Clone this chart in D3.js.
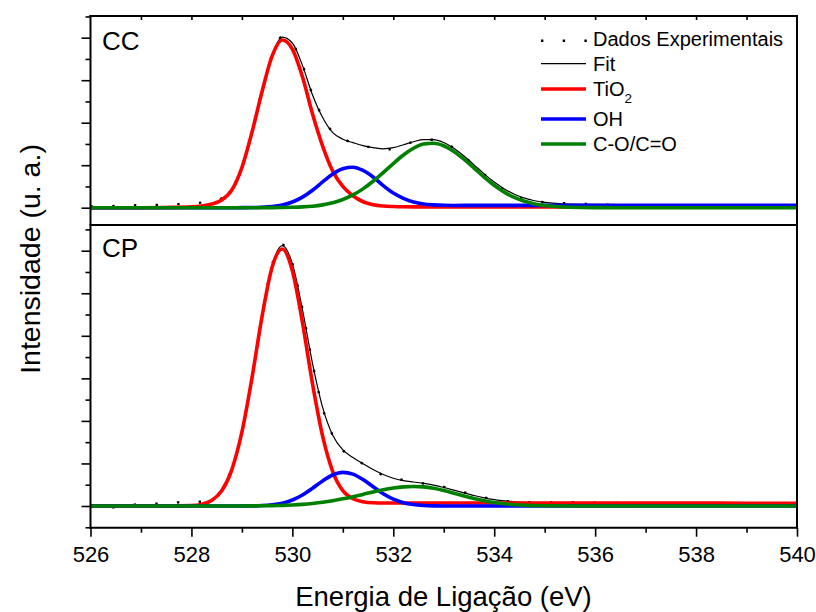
<!DOCTYPE html>
<html>
<head>
<meta charset="utf-8">
<script src="https://cdn.jsdelivr.net/npm/d3@7"></script>
<style>
  body { margin: 0; background: #fff; }
  svg { display: block; }
  text { font-family: Arial, "Liberation Sans", sans-serif; fill: #000; }
</style>
</head>
<body>
<svg id="chart" width="816" height="612"></svg>
<script>
// Binding energy grid (eV)
const energy = [
  526, 526.5, 527, 527.5,
  528, 528.2, 528.4, 528.6, 528.8,
  529, 529.2, 529.4, 529.6, 529.8,
  530, 530.2, 530.4, 530.6, 530.8,
  531, 531.2, 531.4, 531.6, 531.8,
  532, 532.2, 532.4, 532.6, 532.8,
  533, 533.2, 533.4, 533.6, 533.8,
  534, 534.2, 534.4, 534.6, 534.8,
  535, 535.5, 536, 537, 538, 539, 540
];

// ---- CC sample ----
const ccData = [
  0.03, 0.04, 0.06, 0.07,
  0.10, 0.12, 0.14, 0.22, 0.44,
  0.96, 1.80, 2.76, 3.61, 4.02,
  3.87, 3.36, 2.66, 2.13, 1.78,
  1.62, 1.53, 1.46, 1.41, 1.36,
  1.39, 1.47, 1.55, 1.60, 1.60,
  1.54, 1.40, 1.21, 1.00, 0.79,
  0.59, 0.42, 0.28, 0.20, 0.15,
  0.13, 0.10, 0.08, 0.05, 0.03, 0.01, 0.00
];
const ccFit = [
  0, 0, 0, 0.005,
  0.02, 0.04, 0.085, 0.18, 0.415,
  0.945, 1.777, 2.744, 3.600, 4.013,
  3.875, 3.349, 2.652, 2.123, 1.768,
  1.611, 1.531, 1.459, 1.415, 1.386,
  1.412, 1.481, 1.552, 1.604, 1.604,
  1.533, 1.398, 1.217, 1.008, 0.796,
  0.603, 0.442, 0.316, 0.225, 0.164,
  0.125, 0.084, 0.076, 0.075, 0.075, 0.075, 0.075
];
const ccTiO2 = [
  0, 0, 0, 0.005,
  0.02, 0.04, 0.085, 0.18, 0.415,
  0.944, 1.774, 2.733, 3.571, 3.946,
  3.733, 3.081, 2.204, 1.45, 0.86,
  0.50, 0.28, 0.14, 0.07, 0.04,
  0.028, 0.022, 0.02, 0.02, 0.02,
  0.02, 0.02, 0.02, 0.02, 0.02,
  0.02, 0.02, 0.02, 0.02, 0.02,
  0.02, 0.02, 0.02, 0.02, 0.02, 0.02, 0.02
];
const ccOH = [
  0, 0, 0, 0,
  0, 0, 0, 0, 0,
  0.001, 0.003, 0.010, 0.027, 0.063,
  0.133, 0.249, 0.412, 0.606, 0.792,
  0.919, 0.951, 0.876, 0.723, 0.52,
  0.345, 0.220, 0.133, 0.087, 0.067,
  0.056, 0.053, 0.055, 0.055, 0.055,
  0.055, 0.055, 0.055, 0.055, 0.055,
  0.055, 0.055, 0.055, 0.055, 0.055, 0.055, 0.055
];
const ccCO = [
  0, 0, 0, 0,
  0, 0, 0, 0, 0,
  0, 0, 0.001, 0.002, 0.004,
  0.009, 0.019, 0.036, 0.067, 0.116,
  0.192, 0.300, 0.443, 0.622, 0.826,
  1.039, 1.239, 1.399, 1.497, 1.517,
  1.457, 1.325, 1.142, 0.933, 0.721,
  0.528, 0.367, 0.241, 0.150, 0.089,
  0.050, 0.009, 0.001, 0, 0, 0, 0
];

// ---- CP sample ----
const cpData = [
  0.01, -0.03, 0.05, 0.06,
  0.11, 0.10, 0.16, 0.37, 0.86,
  1.74, 3.02, 4.48, 5.67, 6.14,
  5.70, 4.63, 3.35, 2.30, 1.66,
  1.31, 1.14, 0.99, 0.86, 0.72,
  0.66, 0.61, 0.57, 0.53, 0.50,
  0.45, 0.38, 0.32, 0.26, 0.20,
  0.16, 0.12, 0.10, 0.09, 0.09,
  0.09, 0.09, 0.08, 0.06, 0.02, 0.03, 0.02
];
const cpFit = [
  0, 0, 0, 0.001,
  0.010, 0.038, 0.127, 0.356, 0.851,
  1.735, 3.017, 4.472, 5.656, 6.121,
  5.696, 4.615, 3.348, 2.318, 1.663,
  1.318, 1.138, 0.995, 0.857, 0.739,
  0.653, 0.598, 0.564, 0.533, 0.490,
  0.435, 0.372, 0.307, 0.246, 0.193,
  0.152, 0.121, 0.100, 0.087, 0.079,
  0.075, 0.071, 0.070, 0.068, 0.067, 0.066, 0.065
];
const cpTiO2 = [
  0, 0, 0, 0.001,
  0.010, 0.038, 0.127, 0.356, 0.851,
  1.734, 3.011, 4.457, 5.619, 6.039,
  5.530, 4.316, 2.870, 1.64, 0.81,
  0.36, 0.17, 0.10, 0.075, 0.07,
  0.07, 0.07, 0.07, 0.07, 0.07,
  0.07, 0.07, 0.07, 0.07, 0.07,
  0.07, 0.07, 0.07, 0.07, 0.07,
  0.07, 0.07, 0.07, 0.068, 0.067, 0.066, 0.065
];
const cpOH = [
  0, 0, 0, 0,
  0, 0, 0, 0, 0,
  0, 0.003, 0.010, 0.028, 0.067,
  0.141, 0.260, 0.418, 0.590, 0.729,
  0.790, 0.749, 0.622, 0.453, 0.289,
  0.162, 0.079, 0.034, 0.013, 0.004,
  0.001, 0, 0, 0, 0,
  0, 0, 0, 0, 0,
  0, 0, 0, 0, 0, 0, 0
];
const cpCO = [
  0, 0, 0, 0,
  0, 0, 0, 0, 0,
  0.001, 0.003, 0.005, 0.009, 0.015,
  0.025, 0.039, 0.060, 0.088, 0.124,
  0.168, 0.219, 0.273, 0.329, 0.380,
  0.421, 0.449, 0.460, 0.450, 0.416,
  0.364, 0.302, 0.237, 0.176, 0.123,
  0.082, 0.051, 0.030, 0.017, 0.009,
  0.005, 0.001, 0, 0, 0, 0, 0
];

// Axis ticks
const xMajorTicks = [526, 528, 530, 532, 534, 536, 538, 540];
const xMinorTicks = [527, 529, 531, 533, 535, 537, 539];
const xTopTicks = [527, 528, 529, 530, 531, 532, 533, 534, 535, 536, 537, 538, 539];
const ccMajorTicks = [0, 1, 2, 3, 4];
const ccMinorTicks = [0.5, 1.5, 2.5, 3.5, 4.5];
const cpMajorTicks = [0, 1, 2, 3, 4, 5, 6];
const cpMinorTicks = [-0.5, 0.5, 1.5, 2.5, 3.5, 4.5, 5.5, 6.5];

// Legend and titles
const panelNames = ["CC", "CP"];
const legendLabels = ["Dados Experimentais", "Fit", "TiO", "OH", "C-O/C=O"];
const xTitle = "Energia de Ligação (eV)";
const yTitle = "Intensidade (u. a.)";

// ---- layout ----
const svg = d3.select("#chart");
const left = 90.5, right = 797, topY = 16, midY = 225, bottomY = 527.7;

const x = d3.scaleLinear().domain([526, 540]).range([left, right]);
const yCC = d3.scaleLinear().domain([0, 4]).range([207.7, 37.7]);
const yCP = d3.scaleLinear().domain([0, 6]).range([506, 250.7]);

const colors = { tio2: "#ff0000", oh: "#0000ff", co: "#008000", fit: "#000000" };

const defs = svg.append("defs");
defs.append("clipPath").attr("id", "clipCC")
  .append("rect").attr("x", left).attr("y", topY).attr("width", right - left).attr("height", midY - topY);
defs.append("clipPath").attr("id", "clipCP")
  .append("rect").attr("x", left).attr("y", midY).attr("width", right - left).attr("height", bottomY - midY);

function drawPanel(clipId, y, series) {
  const g = svg.append("g").attr("clip-path", `url(#${clipId})`);
  const line = vals => d3.line()
    .x((d, i) => x(energy[i]))
    .y(d => y(d))
    .curve(d3.curveMonotoneX)(vals);

  // experimental points: dotted trace
  g.append("path").attr("d", line(series.data))
    .attr("fill", "none").attr("stroke", "#000").attr("stroke-width", 2.4)
    .attr("stroke-dasharray", "2.4 19.3");
  // total fit
  g.append("path").attr("d", line(series.fit))
    .attr("fill", "none").attr("stroke", colors.fit).attr("stroke-width", 1.2);
  // components
  [["tio2", series.tio2], ["oh", series.oh], ["co", series.co]].forEach(([k, v]) => {
    g.append("path").attr("d", line(v))
      .attr("fill", "none").attr("stroke", colors[k]).attr("stroke-width", 3.6)
      .attr("stroke-linejoin", "round");
  });
}

drawPanel("clipCC", yCC, { data: ccData, fit: ccFit, tio2: ccTiO2, oh: ccOH, co: ccCO });
drawPanel("clipCP", yCP, { data: cpData, fit: cpFit, tio2: cpTiO2, oh: cpOH, co: cpCO });

// ---- axes ----
function styleAxis(sel) {
  sel.select(".domain").remove();
  sel.selectAll(".tick line").attr("stroke", "#000").attr("stroke-width", 1.6);
}

svg.append("g").attr("transform", `translate(${left},0)`)
  .call(d3.axisLeft(yCC).tickValues(ccMajorTicks).tickSize(9).tickFormat("")).call(styleAxis);
svg.append("g").attr("transform", `translate(${left},0)`)
  .call(d3.axisLeft(yCC).tickValues(ccMinorTicks).tickSize(5).tickFormat("")).call(styleAxis);
svg.append("g").attr("transform", `translate(${left},0)`)
  .call(d3.axisLeft(yCP).tickValues(cpMajorTicks).tickSize(9).tickFormat("")).call(styleAxis);
svg.append("g").attr("transform", `translate(${left},0)`)
  .call(d3.axisLeft(yCP).tickValues(cpMinorTicks).tickSize(5).tickFormat("")).call(styleAxis);

// inner ticks on the top edge
svg.append("g").attr("transform", `translate(0,${topY})`)
  .call(d3.axisBottom(x).tickValues(xTopTicks).tickSize(4).tickFormat("")).call(styleAxis);

// bottom energy axis
const xAxisG = svg.append("g").attr("transform", `translate(0,${bottomY})`)
  .call(d3.axisBottom(x).tickValues(xMajorTicks).tickSize(9).tickPadding(10).tickFormat(d3.format("d")))
  .call(styleAxis);
xAxisG.selectAll(".tick text").attr("font-size", 22).attr("font-family", "Arial, 'Liberation Sans', sans-serif").attr("fill", "#000");
svg.append("g").attr("transform", `translate(0,${bottomY})`)
  .call(d3.axisBottom(x).tickValues(xMinorTicks).tickSize(5).tickFormat("")).call(styleAxis);

// frame lines
const frame = svg.append("g").attr("stroke", "#000").attr("stroke-width", 2).attr("fill", "none");
frame.append("line").attr("x1", left).attr("x2", left).attr("y1", topY - 1).attr("y2", bottomY + 1);
frame.append("line").attr("x1", right).attr("x2", right).attr("y1", topY - 1).attr("y2", bottomY + 1);
frame.append("line").attr("x1", left - 1).attr("x2", right + 1).attr("y1", topY).attr("y2", topY);
frame.append("line").attr("x1", left - 1).attr("x2", right + 1).attr("y1", midY).attr("y2", midY);
frame.append("line").attr("x1", left - 1).attr("x2", right + 1).attr("y1", bottomY).attr("y2", bottomY);

// panel names
svg.append("text").attr("x", 102).attr("y", 50).attr("font-size", 26).text(panelNames[0]);
svg.append("text").attr("x", 102).attr("y", 257).attr("font-size", 26).text(panelNames[1]);

// axis titles
svg.append("text").attr("x", 443.5).attr("y", 606).attr("text-anchor", "middle")
  .attr("font-size", 27.5).text(xTitle);
svg.append("text").attr("transform", "translate(40,259) rotate(-90)").attr("text-anchor", "middle")
  .attr("font-size", 28.5).text(yTitle);

// ---- legend ----
const leg = svg.append("g");
const lx1 = 541, lx2 = 586, tx = 593;
const rows = [
  { sample: 40.7, base: 46 },
  { sample: 63.7, base: 70.7 },
  { sample: 89, base: 95.5 },
  { sample: 119, base: 126 },
  { sample: 144, base: 150.7 }
];
leg.append("line").attr("x1", lx1).attr("x2", lx2 + 2).attr("y1", rows[0].sample).attr("y2", rows[0].sample)
  .attr("stroke", "#000").attr("stroke-width", 2.4).attr("stroke-dasharray", "2.4 19.3");
leg.append("line").attr("x1", lx1).attr("x2", lx2).attr("y1", rows[1].sample).attr("y2", rows[1].sample)
  .attr("stroke", colors.fit).attr("stroke-width", 1.2);
[["tio2", 2], ["oh", 3], ["co", 4]].forEach(([k, i]) => {
  leg.append("line").attr("x1", lx1).attr("x2", lx2).attr("y1", rows[i].sample).attr("y2", rows[i].sample)
    .attr("stroke", colors[k]).attr("stroke-width", 3.6);
});
legendLabels.forEach((lab, i) => {
  const t = leg.append("text").attr("x", tx).attr("y", rows[i].base).attr("font-size", 20).text(lab);
  if (i === 2) t.append("tspan").attr("font-size", 13.5).attr("dy", 7).text("2");
});
</script>
</body>
</html>
